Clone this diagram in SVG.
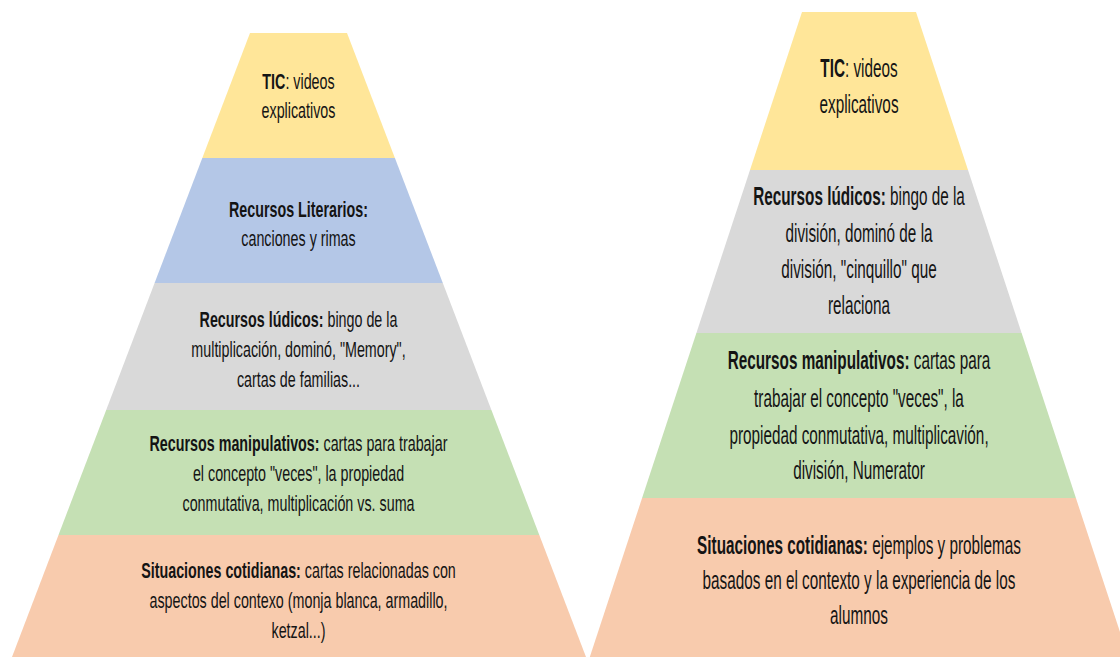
<svg xmlns="http://www.w3.org/2000/svg" width="1120" height="657" viewBox="0 0 1120 657">
<style>
.t{font-family:"Liberation Sans",Arial,sans-serif;fill:#141414;text-anchor:middle}
.l{font-size:22px}
.r{font-size:25.5px}
.b{font-weight:bold}
.yel{fill:#FFE699}.blu{fill:#B4C7E7}.gry{fill:#D9D9D9}.grn{fill:#C5E0B4}.org{fill:#F8CBAD}
</style>
<rect width="1120" height="657" fill="#ffffff"/>
<g id="left-pyramid">
<g id="left-tic">
<polygon class="yel" points="250,33 347,33 394.9,158 202.3,158"/>
<text class="t l" transform="matrix(0.65 0 0 1 298.5 0)"><tspan x="0" y="89"><tspan class="b">TIC</tspan>: videos</tspan><tspan x="0" y="118">explicativos</tspan></text>
</g>
<g id="left-literarios">
<polygon class="blu" points="202.3,158 394.9,158 442.8,283 154.6,283"/>
<text class="t l" transform="matrix(0.65 0 0 1 298.5 0)"><tspan x="0" y="217" class="b">Recursos Literarios:</tspan><tspan x="0" y="246">canciones y rimas</tspan></text>
</g>
<g id="left-ludicos">
<polygon class="gry" points="154.6,283 442.8,283 491.4,410 106.2,410"/>
<text class="t l" transform="matrix(0.65 0 0 1 298.5 0)"><tspan x="0" y="327"><tspan class="b">Recursos lúdicos:</tspan> bingo de la</tspan><tspan x="0" y="357">multiplicación, dominó, "Memory",</tspan><tspan x="0" y="387">cartas de familias...</tspan></text>
</g>
<g id="left-manipulativos">
<polygon class="grn" points="106.2,410 491.4,410 539.3,535 58.5,535"/>
<text class="t l" transform="matrix(0.65 0 0 1 298.5 0)"><tspan x="0" y="451"><tspan class="b">Recursos manipulativos:</tspan> cartas para trabajar</tspan><tspan x="0" y="481">el concepto "veces", la propiedad</tspan><tspan x="0" y="511">conmutativa, multiplicación vs. suma</tspan></text>
</g>
<g id="left-situaciones">
<polygon class="org" points="58.5,535 539.3,535 586,657 12,657"/>
<text class="t l" transform="matrix(0.65 0 0 1 298.5 0)"><tspan x="0" y="578"><tspan class="b">Situaciones cotidianas:</tspan> cartas relacionadas con</tspan><tspan x="0" y="608">aspectos del contexo (monja blanca, armadillo,</tspan><tspan x="0" y="638">ketzal...)</tspan></text>
</g>
</g>
<g id="right-pyramid">
<g id="right-tic">
<polygon class="yel" points="802,12 916,12 968,170 750,170"/>
<text class="t r" transform="matrix(0.6 0 0 1 859 0)"><tspan x="0" y="77"><tspan class="b">TIC</tspan>: videos</tspan><tspan x="0" y="113">explicativos</tspan></text>
</g>
<g id="right-ludicos">
<polygon class="gry" points="750,170 968,170 1021.6,333 696.4,333"/>
<text class="t r" transform="matrix(0.6 0 0 1 859 0)"><tspan x="0" y="205"><tspan class="b">Recursos lúdicos:</tspan> bingo de la</tspan><tspan x="0" y="242">división, dominó de la</tspan><tspan x="0" y="278">división, "cinquillo" que</tspan><tspan x="0" y="314">relaciona</tspan></text>
</g>
<g id="right-manipulativos">
<polygon class="grn" points="696.4,333 1021.6,333 1075.9,498 642.1,498"/>
<text class="t r" transform="matrix(0.6 0 0 1 859 0)"><tspan x="0" y="369"><tspan class="b">Recursos manipulativos:</tspan> cartas para</tspan><tspan x="0" y="407">trabajar el concepto "veces", la</tspan><tspan x="0" y="444">propiedad conmutativa, multiplicavión,</tspan><tspan x="0" y="479">división, Numerator</tspan></text>
</g>
<g id="right-situaciones">
<polygon class="org" points="642.1,498 1075.9,498 1128.2,657 589.8,657"/>
<text class="t r" transform="matrix(0.6 0 0 1 859 0)"><tspan x="0" y="554"><tspan class="b">Situaciones cotidianas:</tspan> ejemplos y problemas</tspan><tspan x="0" y="589">basados en el contexto y la experiencia de los</tspan><tspan x="0" y="624">alumnos</tspan></text>
</g>
</g>
</svg>
